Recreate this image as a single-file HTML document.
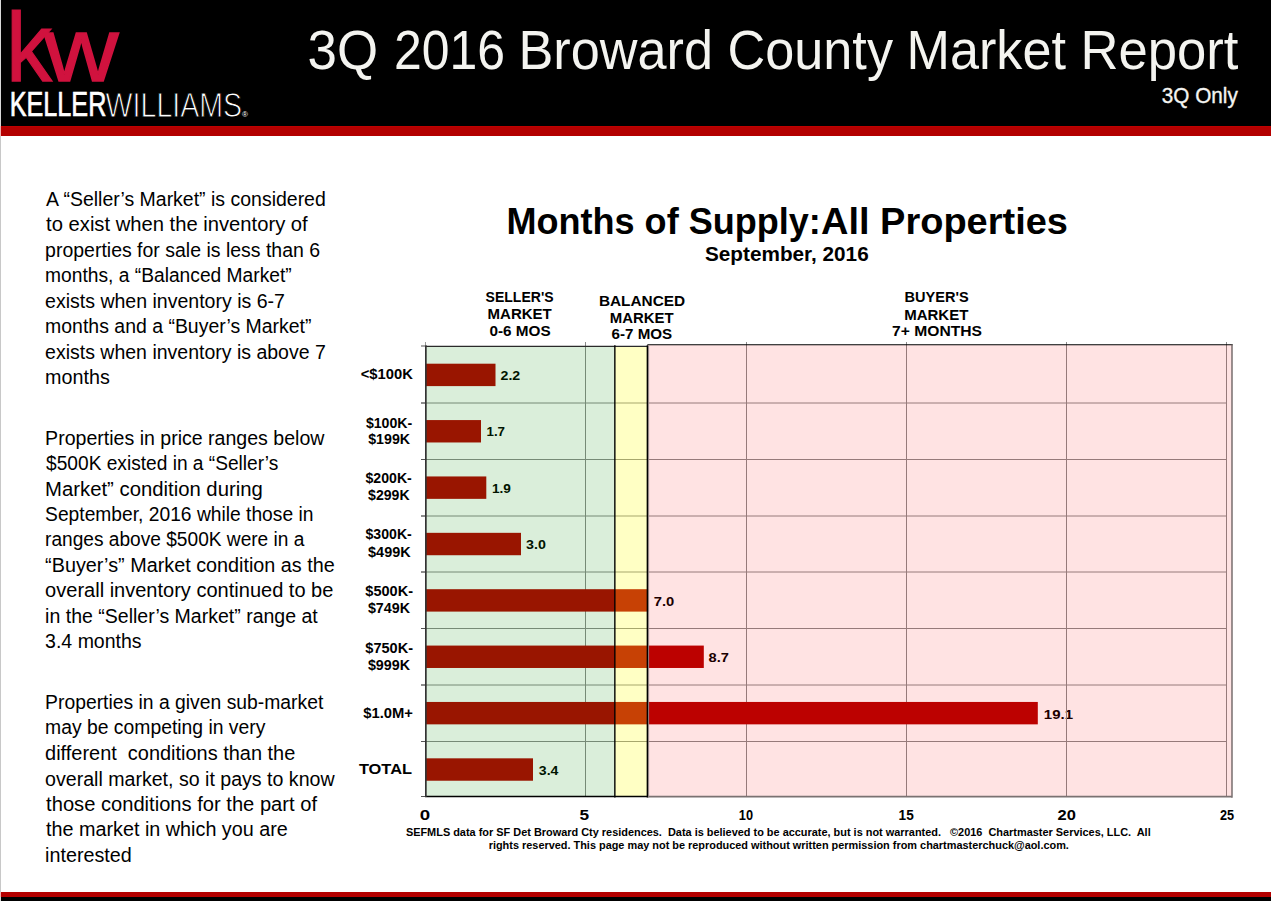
<!DOCTYPE html>
<html><head><meta charset="utf-8"><title>3Q 2016 Broward County Market Report</title>
<style>
html,body{margin:0;padding:0;background:#fff;}
body{width:1271px;height:901px;overflow:hidden;position:relative;font-family:"Liberation Sans", sans-serif;}
svg{position:absolute;left:0;top:0;display:block;}
svg text{font-family:"Liberation Sans", sans-serif;white-space:pre;}
</style></head><body>
<svg width="1271" height="901" viewBox="0 0 1271 901">

<rect x="0" y="0" width="1271" height="126" fill="#000"/>
<rect x="0" y="126" width="1271" height="10" fill="#b40000"/>
<rect x="0" y="126" width="1271" height="1" fill="#c00000"/>
<rect x="0" y="892" width="1271" height="5" fill="#b40000"/>
<rect x="0" y="897" width="1271" height="4" fill="#000"/>
<text x="6" y="80.8" font-size="99" fill="#d0123e" stroke="#d0123e" stroke-width="1.2" textLength="46" lengthAdjust="spacingAndGlyphs">k</text>
<text x="44" y="80.8" font-size="91" fill="#d0123e" stroke="#d0123e" stroke-width="1.4" textLength="74.5" lengthAdjust="spacingAndGlyphs">w</text>
<text x="242" y="116.5" font-size="8" fill="#fff">®</text>

<text x="500.50" y="379.80" font-size="13.6" font-weight="bold" fill="#000" textLength="19.70" lengthAdjust="spacingAndGlyphs">2.2</text>
<text x="486.50" y="436.20" font-size="13.6" font-weight="bold" fill="#000" textLength="18.50" lengthAdjust="spacingAndGlyphs">1.7</text>
<text x="491.90" y="492.70" font-size="13.6" font-weight="bold" fill="#000" textLength="18.90" lengthAdjust="spacingAndGlyphs">1.9</text>
<text x="526.10" y="548.90" font-size="13.6" font-weight="bold" fill="#000" textLength="19.80" lengthAdjust="spacingAndGlyphs">3.0</text>
<text x="653.70" y="605.50" font-size="13.6" font-weight="bold" fill="#000" textLength="20.50" lengthAdjust="spacingAndGlyphs">7.0</text>
<text x="708.60" y="662.00" font-size="13.6" font-weight="bold" fill="#000" textLength="20.30" lengthAdjust="spacingAndGlyphs">8.7</text>
<text x="1043.80" y="718.50" font-size="13.6" font-weight="bold" fill="#000" textLength="29.20" lengthAdjust="spacingAndGlyphs">19.1</text>
<text x="538.80" y="774.50" font-size="13.6" font-weight="bold" fill="#000" textLength="19.60" lengthAdjust="spacingAndGlyphs">3.4</text>
<line x1="421" y1="403.0" x2="1227" y2="403.0" stroke="#8a8a8a" stroke-width="1"/>
<line x1="421" y1="459.5" x2="1227" y2="459.5" stroke="#8a8a8a" stroke-width="1"/>
<line x1="421" y1="516.0" x2="1227" y2="516.0" stroke="#8a8a8a" stroke-width="1"/>
<line x1="421" y1="572.0" x2="1227" y2="572.0" stroke="#8a8a8a" stroke-width="1"/>
<line x1="421" y1="628.5" x2="1227" y2="628.5" stroke="#8a8a8a" stroke-width="1"/>
<line x1="421" y1="685.0" x2="1227" y2="685.0" stroke="#8a8a8a" stroke-width="1"/>
<line x1="421" y1="741.5" x2="1227" y2="741.5" stroke="#8a8a8a" stroke-width="1"/>
<line x1="585.5" y1="342" x2="585.5" y2="797.0" stroke="#8a8a8a" stroke-width="1"/>
<line x1="746.5" y1="342" x2="746.5" y2="797.0" stroke="#8a8a8a" stroke-width="1"/>
<line x1="906.5" y1="342" x2="906.5" y2="797.0" stroke="#8a8a8a" stroke-width="1"/>
<line x1="1066.5" y1="342" x2="1066.5" y2="797.0" stroke="#8a8a8a" stroke-width="1"/>
<line x1="1226.5" y1="342" x2="1226.5" y2="797.0" stroke="#8a8a8a" stroke-width="1"/>
<rect x="425.6" y="363.70" width="69.90" height="22.4" fill="#b40200"/>
<rect x="425.6" y="420.07" width="55.40" height="22.4" fill="#b40200"/>
<rect x="425.6" y="476.45" width="60.70" height="22.4" fill="#b40200"/>
<rect x="425.6" y="532.83" width="95.40" height="22.4" fill="#b40200"/>
<rect x="425.6" y="589.20" width="222.90" height="22.4" fill="#b40200"/>
<rect x="425.6" y="645.58" width="278.20" height="22.4" fill="#b40200"/>
<rect x="425.6" y="701.95" width="612.20" height="22.4" fill="#b40200"/>
<rect x="425.6" y="758.33" width="107.40" height="22.4" fill="#b40200"/>
<rect x="425.6" y="346.0" width="189.25" height="451.00" fill="#008a00" fill-opacity="0.145"/>
<rect x="614.85" y="346.0" width="32.50" height="451.00" fill="#ffff13" fill-opacity="0.25"/>
<rect x="647.35" y="345.0" width="584.65" height="452.00" fill="#ff0000" fill-opacity="0.11"/>
<line x1="425" y1="346.3" x2="647.35" y2="346.3" stroke="#2a2a2a" stroke-width="1.2"/>
<line x1="647.35" y1="344.8" x2="1232.7" y2="344.8" stroke="#000" stroke-width="1.1"/>
<line x1="1232.0" y1="344.5" x2="1232.0" y2="797.7" stroke="#6e6464" stroke-width="1.4"/>
<line x1="647.35" y1="796.6" x2="1232.0" y2="796.6" stroke="#7a7272" stroke-width="1.8"/>
<line x1="425" y1="796.4" x2="647.35" y2="796.4" stroke="#000" stroke-width="1.5"/>
<line x1="425.85" y1="345.3" x2="425.85" y2="797" stroke="#333" stroke-width="1.7"/>
<line x1="614.85" y1="345.3" x2="614.85" y2="797.5" stroke="#000" stroke-width="1.4"/>
<line x1="647.35" y1="345.3" x2="647.35" y2="797.5" stroke="#000" stroke-width="1.4"/>
<line x1="648.6" y1="345.3" x2="648.6" y2="797.5" stroke="#8a7e7e" stroke-width="1"/>
<line x1="421" y1="346" x2="425" y2="346" stroke="#555" stroke-width="1"/>
<line x1="421" y1="403.0" x2="425" y2="403.0" stroke="#555" stroke-width="1"/>
<line x1="421" y1="459.5" x2="425" y2="459.5" stroke="#555" stroke-width="1"/>
<line x1="421" y1="516.0" x2="425" y2="516.0" stroke="#555" stroke-width="1"/>
<line x1="421" y1="572.0" x2="425" y2="572.0" stroke="#555" stroke-width="1"/>
<line x1="421" y1="628.5" x2="425" y2="628.5" stroke="#555" stroke-width="1"/>
<line x1="421" y1="685.0" x2="425" y2="685.0" stroke="#555" stroke-width="1"/>
<line x1="421" y1="741.5" x2="425" y2="741.5" stroke="#555" stroke-width="1"/>
<line x1="421" y1="796.5" x2="425" y2="796.5" stroke="#555" stroke-width="1"/>
<line x1="425.5" y1="342" x2="425.5" y2="345" stroke="#999" stroke-width="1"/>
<text y="69.00" font-size="55.2" font-weight="normal" fill="#f4f4f0"><tspan x="307.50" textLength="70.50" lengthAdjust="spacingAndGlyphs">3Q</tspan> <tspan x="394.00" textLength="111.00" lengthAdjust="spacingAndGlyphs">2016</tspan> <tspan x="518.50" textLength="194.50" lengthAdjust="spacingAndGlyphs">Broward</tspan> <tspan x="727.50" textLength="165.50" lengthAdjust="spacingAndGlyphs">County</tspan> <tspan x="906.50" textLength="159.50" lengthAdjust="spacingAndGlyphs">Market</tspan> <tspan x="1080.50" textLength="158.00" lengthAdjust="spacingAndGlyphs">Report</tspan></text>
<text x="1161.80" y="102.80" font-size="21.5" font-weight="normal" fill="#f4f4f0" textLength="76.00" lengthAdjust="spacingAndGlyphs" stroke="#f4f4f0" stroke-width="0.35">3Q Only</text>
<text x="9.70" y="116.30" font-size="34.5" font-weight="normal" fill="#fff" textLength="96.70" lengthAdjust="spacingAndGlyphs" stroke="#fff" stroke-width="0.7">KELLER</text>
<text x="105.60" y="116.60" font-size="34.5" font-weight="normal" fill="#fff" textLength="136.60" lengthAdjust="spacingAndGlyphs" stroke="#000" stroke-width="1.0">WILLIAMS</text>
<text x="46.10" y="206.00" font-size="20.0" font-weight="normal" fill="#000" textLength="279.70" lengthAdjust="spacingAndGlyphs">A “Seller’s Market” is considered</text>
<text x="46.10" y="231.00" font-size="20.0" font-weight="normal" fill="#000" textLength="261.60" lengthAdjust="spacingAndGlyphs">to exist when the inventory of</text>
<text x="45.10" y="257.00" font-size="20.0" font-weight="normal" fill="#000" textLength="275.00" lengthAdjust="spacingAndGlyphs">properties for sale is less than 6</text>
<text x="45.10" y="282.00" font-size="20.0" font-weight="normal" fill="#000" textLength="246.60" lengthAdjust="spacingAndGlyphs">months, a “Balanced Market”</text>
<text x="45.10" y="308.00" font-size="20.0" font-weight="normal" fill="#000" textLength="239.80" lengthAdjust="spacingAndGlyphs">exists when inventory is 6-7</text>
<text x="45.10" y="333.00" font-size="20.0" font-weight="normal" fill="#000" textLength="266.40" lengthAdjust="spacingAndGlyphs">months and a “Buyer’s Market”</text>
<text x="45.10" y="359.00" font-size="20.0" font-weight="normal" fill="#000" textLength="280.70" lengthAdjust="spacingAndGlyphs">exists when inventory is above 7</text>
<text x="45.10" y="384.00" font-size="20.0" font-weight="normal" fill="#000" textLength="64.70" lengthAdjust="spacingAndGlyphs">months</text>
<text x="45.10" y="445.00" font-size="20.0" font-weight="normal" fill="#000" textLength="279.30" lengthAdjust="spacingAndGlyphs">Properties in price ranges below</text>
<text x="46.10" y="470.00" font-size="20.0" font-weight="normal" fill="#000" textLength="232.20" lengthAdjust="spacingAndGlyphs">$500K existed in a “Seller’s</text>
<text x="45.10" y="496.00" font-size="20.0" font-weight="normal" fill="#000" textLength="217.70" lengthAdjust="spacingAndGlyphs">Market” condition during</text>
<text x="45.10" y="521.00" font-size="20.0" font-weight="normal" fill="#000" textLength="268.30" lengthAdjust="spacingAndGlyphs">September, 2016 while those in</text>
<text x="45.10" y="546.00" font-size="20.0" font-weight="normal" fill="#000" textLength="259.30" lengthAdjust="spacingAndGlyphs">ranges above $500K were in a</text>
<text x="45.10" y="572.00" font-size="20.0" font-weight="normal" fill="#000" textLength="289.70" lengthAdjust="spacingAndGlyphs">“Buyer’s” Market condition as the</text>
<text x="45.10" y="597.00" font-size="20.0" font-weight="normal" fill="#000" textLength="288.30" lengthAdjust="spacingAndGlyphs">overall inventory continued to be</text>
<text x="45.10" y="623.00" font-size="20.0" font-weight="normal" fill="#000" textLength="272.70" lengthAdjust="spacingAndGlyphs">in the “Seller’s Market” range at</text>
<text x="45.10" y="648.00" font-size="20.0" font-weight="normal" fill="#000" textLength="96.50" lengthAdjust="spacingAndGlyphs">3.4 months</text>
<text x="45.10" y="709.00" font-size="20.0" font-weight="normal" fill="#000" textLength="278.20" lengthAdjust="spacingAndGlyphs">Properties in a given sub-market</text>
<text x="45.10" y="734.00" font-size="20.0" font-weight="normal" fill="#000" textLength="220.30" lengthAdjust="spacingAndGlyphs">may be competing in very</text>
<text x="45.10" y="760.00" font-size="20.0" font-weight="normal" fill="#000" textLength="250.20" lengthAdjust="spacingAndGlyphs">different  conditions than the</text>
<text x="45.10" y="786.00" font-size="20.0" font-weight="normal" fill="#000" textLength="289.50" lengthAdjust="spacingAndGlyphs">overall market, so it pays to know</text>
<text x="46.10" y="811.00" font-size="20.0" font-weight="normal" fill="#000" textLength="270.90" lengthAdjust="spacingAndGlyphs">those conditions for the part of</text>
<text x="46.10" y="836.00" font-size="20.0" font-weight="normal" fill="#000" textLength="241.70" lengthAdjust="spacingAndGlyphs">the market in which you are</text>
<text x="45.10" y="862.00" font-size="20.0" font-weight="normal" fill="#000" textLength="86.60" lengthAdjust="spacingAndGlyphs">interested</text>
<text y="233.50" font-size="36.2" font-weight="bold" fill="#000"><tspan x="506.50" textLength="314.30" lengthAdjust="spacingAndGlyphs">Months of Supply:</tspan> <tspan x="821.00" textLength="247.00" lengthAdjust="spacingAndGlyphs">All Properties</tspan></text>
<text x="705.00" y="261.20" font-size="19.8" font-weight="bold" fill="#000" textLength="163.70" lengthAdjust="spacingAndGlyphs">September, 2016</text>
<text x="485.60" y="301.80" font-size="14.2" font-weight="bold" fill="#000" textLength="68.00" lengthAdjust="spacingAndGlyphs">SELLER'S</text>
<text x="487.60" y="319.00" font-size="14.2" font-weight="bold" fill="#000" textLength="64.20" lengthAdjust="spacingAndGlyphs">MARKET</text>
<text x="489.40" y="335.70" font-size="14.2" font-weight="bold" fill="#000" textLength="61.20" lengthAdjust="spacingAndGlyphs">0-6 MOS</text>
<text x="598.90" y="305.80" font-size="14.2" font-weight="bold" fill="#000" textLength="86.20" lengthAdjust="spacingAndGlyphs">BALANCED</text>
<text x="609.80" y="323.00" font-size="14.2" font-weight="bold" fill="#000" textLength="63.80" lengthAdjust="spacingAndGlyphs">MARKET</text>
<text x="611.60" y="339.30" font-size="14.2" font-weight="bold" fill="#000" textLength="60.60" lengthAdjust="spacingAndGlyphs">6-7 MOS</text>
<text x="904.50" y="302.40" font-size="14.2" font-weight="bold" fill="#000" textLength="64.10" lengthAdjust="spacingAndGlyphs">BUYER'S</text>
<text x="904.20" y="319.50" font-size="14.2" font-weight="bold" fill="#000" textLength="64.20" lengthAdjust="spacingAndGlyphs">MARKET</text>
<text x="892.10" y="336.20" font-size="14.2" font-weight="bold" fill="#000" textLength="89.90" lengthAdjust="spacingAndGlyphs">7+ MONTHS</text>
<text x="360.70" y="379.10" font-size="14.3" font-weight="bold" fill="#000" textLength="52.10" lengthAdjust="spacingAndGlyphs">&lt;$100K</text>
<text x="365.90" y="427.60" font-size="14.3" font-weight="bold" fill="#000" textLength="46.40" lengthAdjust="spacingAndGlyphs">$100K-</text>
<text x="368.20" y="444.40" font-size="14.3" font-weight="bold" fill="#000" textLength="41.90" lengthAdjust="spacingAndGlyphs">$199K</text>
<text x="365.50" y="483.30" font-size="14.3" font-weight="bold" fill="#000" textLength="46.30" lengthAdjust="spacingAndGlyphs">$200K-</text>
<text x="368.10" y="500.30" font-size="14.3" font-weight="bold" fill="#000" textLength="41.50" lengthAdjust="spacingAndGlyphs">$299K</text>
<text x="365.50" y="539.30" font-size="14.3" font-weight="bold" fill="#000" textLength="46.30" lengthAdjust="spacingAndGlyphs">$300K-</text>
<text x="368.10" y="556.50" font-size="14.3" font-weight="bold" fill="#000" textLength="42.50" lengthAdjust="spacingAndGlyphs">$499K</text>
<text x="365.30" y="596.20" font-size="14.3" font-weight="bold" fill="#000" textLength="47.70" lengthAdjust="spacingAndGlyphs">$500K-</text>
<text x="367.90" y="613.10" font-size="14.3" font-weight="bold" fill="#000" textLength="42.10" lengthAdjust="spacingAndGlyphs">$749K</text>
<text x="365.30" y="652.60" font-size="14.3" font-weight="bold" fill="#000" textLength="47.70" lengthAdjust="spacingAndGlyphs">$750K-</text>
<text x="367.90" y="669.70" font-size="14.3" font-weight="bold" fill="#000" textLength="42.10" lengthAdjust="spacingAndGlyphs">$999K</text>
<text x="363.30" y="718.20" font-size="14.3" font-weight="bold" fill="#000" textLength="49.70" lengthAdjust="spacingAndGlyphs">$1.0M+</text>
<text x="358.90" y="773.80" font-size="14.3" font-weight="bold" fill="#000" textLength="53.10" lengthAdjust="spacingAndGlyphs">TOTAL</text>
<text x="419.70" y="819.70" font-size="14.1" font-weight="bold" fill="#000" textLength="10.40" lengthAdjust="spacingAndGlyphs">0</text>
<text x="579.60" y="819.70" font-size="14.1" font-weight="bold" fill="#000" textLength="9.60" lengthAdjust="spacingAndGlyphs">5</text>
<text x="738.80" y="819.70" font-size="14.1" font-weight="bold" fill="#000" textLength="14.20" lengthAdjust="spacingAndGlyphs">10</text>
<text x="898.60" y="819.70" font-size="14.1" font-weight="bold" fill="#000" textLength="15.10" lengthAdjust="spacingAndGlyphs">15</text>
<text x="1057.50" y="819.70" font-size="14.1" font-weight="bold" fill="#000" textLength="18.30" lengthAdjust="spacingAndGlyphs">20</text>
<text x="1219.90" y="819.70" font-size="14.1" font-weight="bold" fill="#000" textLength="14.10" lengthAdjust="spacingAndGlyphs">25</text>
<text x="405.90" y="835.50" font-size="10.9" font-weight="bold" fill="#000" textLength="744.80" lengthAdjust="spacingAndGlyphs">SEFMLS data for SF Det Broward Cty residences.  Data is believed to be accurate, but is not warranted.   ©2016  Chartmaster Services, LLC.  All</text>
<text x="488.70" y="849.00" font-size="10.9" font-weight="bold" fill="#000" textLength="580.20" lengthAdjust="spacingAndGlyphs">rights reserved. This page may not be reproduced without written permission from chartmasterchuck@aol.com.</text>
<rect x="0" y="0" width="1" height="126" fill="#d8d8d8"/><rect x="0" y="126" width="1" height="10" fill="#f2aeae"/><rect x="0" y="136" width="1" height="756" fill="#c8c8c8"/><rect x="0" y="892" width="1" height="5" fill="#f2aeae"/><rect x="0" y="897" width="1" height="4" fill="#d8d8d8"/>
</svg>
</body></html>
